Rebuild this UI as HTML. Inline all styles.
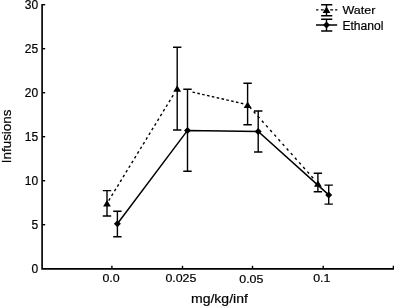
<!DOCTYPE html>
<html lang="en"><head><meta charset="utf-8"><title>Infusions chart</title>
<style>html,body{margin:0;padding:0;background:#fff;overflow:hidden}body{width:394px;height:306px;position:relative}</style></head>
<body>
<svg width="394" height="306" viewBox="0 0 394 306" style="display:block;position:absolute;left:0;top:0">
<rect width="394" height="306" fill="#fff"/>
<g stroke="#000" stroke-width="1.4" fill="none" stroke-linecap="butt">
<path stroke-width="1.65" stroke-linejoin="miter" d="M42.1 4.0V268.8H394"/>
<path d="M42.1 224.7h3.1"/>
<path d="M42.1 180.7h3.1"/>
<path d="M42.1 136.7h3.1"/>
<path d="M42.1 92.7h3.1"/>
<path d="M42.1 48.7h3.1"/>
<path d="M42.1 4.7h3.1"/>
<path d="M111.9 268.8v-3.0"/>
<path d="M182.5 268.8v-3.0"/>
<path d="M252.5 268.8v-3.0"/>
<path d="M323.2 268.8v-3.0"/>
<path d="M393.4 268.8v-3.0"/>
</g>
<g stroke="#000" stroke-width="1.4" fill="none">
<path d="M108.72 200.58L110.08 198.37M111.59 195.89L112.95 193.67M114.46 191.20L115.82 188.98M117.33 186.51L118.69 184.29M120.20 181.82L121.56 179.60M123.07 177.12L124.42 174.91M125.94 172.43L127.29 170.21M128.81 167.74L130.16 165.52M131.68 163.05L133.03 160.83M134.55 158.35L135.90 156.14M137.41 153.66L138.77 151.44M140.28 148.97L141.64 146.75M143.15 144.28L144.51 142.06M146.02 139.59L147.38 137.37M148.89 134.89L150.25 132.68M151.76 130.20L153.12 127.98M154.63 125.51L155.99 123.29M157.50 120.82L158.86 118.60M160.37 116.12L161.73 113.91M163.24 111.43L164.59 109.21M166.11 106.74L167.46 104.52M168.98 102.05L170.33 99.83M171.85 97.36L173.20 95.14M192.50 92.10L195.04 92.68M197.33 93.20L199.86 93.78M202.16 94.31L204.69 94.89M206.98 95.41L209.52 95.99M211.81 96.51L214.34 97.09M216.63 97.62L219.17 98.20M221.46 98.72L223.99 99.30M226.28 99.82L228.82 100.40M231.11 100.93L233.64 101.51M235.93 102.03L238.47 102.61M240.76 103.14L243.29 103.72M249.53 106.86L251.26 108.80M253.66 111.49L255.39 113.43M257.79 116.12L259.52 118.06M261.91 120.74L263.64 122.68M266.04 125.37L267.77 127.31M270.17 130.00L271.90 131.94M274.30 134.62L276.03 136.56M278.42 139.25L280.15 141.19M282.55 143.88L284.28 145.82M286.68 148.50L288.41 150.44M290.80 153.13L292.54 155.07M294.93 157.76L296.66 159.70M299.06 162.38L300.79 164.32M303.19 167.01L304.92 168.95M307.31 171.63L309.05 173.57M311.44 176.26L313.17 178.20"/>
<polyline stroke-width="1.5" points="117.4,223.8 187.5,130.4 258.2,131.5 328.7,194.9"/>
</g>
<g stroke="#000" stroke-width="1.4" fill="none">
<path d="M107.0 190.6V216.0M102.8 190.6h8.4M102.8 216.0h8.4"/>
<path d="M177.2 47.2V130.0M173.0 47.2h8.4M173.0 130.0h8.4"/>
<path d="M247.6 83.2V124.8M243.4 83.2h8.4M243.4 124.8h8.4"/>
<path d="M317.9 173.3V191.8M313.7 173.3h8.4M313.7 191.8h8.4"/>
<path d="M117.4 211.3V236.7M113.2 211.3h8.4M113.2 236.7h8.4"/>
<path d="M187.5 89.2V171.2M183.3 89.2h8.4M183.3 171.2h8.4"/>
<path d="M258.2 111.0V152.0M254.0 111.0h8.4M254.0 152.0h8.4"/>
<path d="M328.7 185.1V204.1M324.5 185.1h8.4M324.5 204.1h8.4"/>
</g>
<g fill="#000" stroke="none">
<path d="M107.0 200.1L110.9 206.6H103.1Z"/>
<path d="M177.2 85.3L181.1 91.8H173.3Z"/>
<path d="M247.6 101.4L251.5 107.9H243.7Z"/>
<path d="M317.9 180.2L321.8 186.7H314.0Z"/>
<path d="M117.4 220.3L120.9 223.8L117.4 227.3L113.9 223.8Z"/>
<path d="M187.5 126.9L191.0 130.4L187.5 133.9L184.0 130.4Z"/>
<path d="M258.2 128.0L261.7 131.5L258.2 135.0L254.7 131.5Z"/>
<path d="M328.7 191.4L332.2 194.9L328.7 198.4L325.2 194.9Z"/>
</g>
<g stroke="#000" stroke-width="1.4" fill="none">
<path stroke-width="1.3" d="M316.1 9.9h2.3M320.9 9.9h2.8M330.2 9.9h2.9M335.1 9.9h2.3"/>
<path d="M326.5 4.7V15.8M321.1 4.7h11.2M321.1 15.8h11.2"/>
<path stroke-width="1.5" d="M316 25H337.2"/>
<path d="M326.5 19.3V31M321.1 19.3h11.2M321.1 31h11.2"/>
</g>
<g fill="#000"><path d="M326.5 6.6L330.4 13.1H322.6Z"/><path d="M326.5 21.5L330.0 25L326.5 28.5L323.0 25Z"/></g>
<g font-family="Liberation Sans, Arial, Helvetica, sans-serif" font-size="12" fill="#000" stroke="#000" stroke-width="0.2">
<text transform="translate(38.2 272.7)" text-anchor="end">0</text>
<text transform="translate(38.2 228.7)" text-anchor="end">5</text>
<text transform="translate(38.2 184.7)" text-anchor="end">10</text>
<text transform="translate(38.2 140.7)" text-anchor="end">15</text>
<text transform="translate(38.2 96.7)" text-anchor="end">20</text>
<text transform="translate(38.2 52.7)" text-anchor="end">25</text>
<text transform="translate(38.2 8.7)" text-anchor="end">30</text>
<text transform="translate(111.1 281.8) scale(1.07 1)" text-anchor="middle" font-size="11.6">0.0</text>
<text transform="translate(180.9 282.45) scale(1.07 1)" text-anchor="middle" font-size="11.6">0.025</text>
<text transform="translate(251.3 283.3) scale(1.07 1)" text-anchor="middle" font-size="11.6">0.05</text>
<text transform="translate(321.8 282.3) scale(1.07 1)" text-anchor="middle" font-size="11.6">0.1</text>
<text transform="translate(342.4 14.4) scale(1.045 0.96)">Water</text>
<text transform="translate(342.4 29.5) scale(1.01 1)">Ethanol</text>
<text transform="translate(219.4 302.6) scale(1.08 1)" text-anchor="middle" font-size="13">mg/kg/inf</text>
<text transform="translate(10.8 136.4) rotate(-90)" text-anchor="middle" font-size="13.4">Infusions</text>
</g>
</svg>
</body></html>
